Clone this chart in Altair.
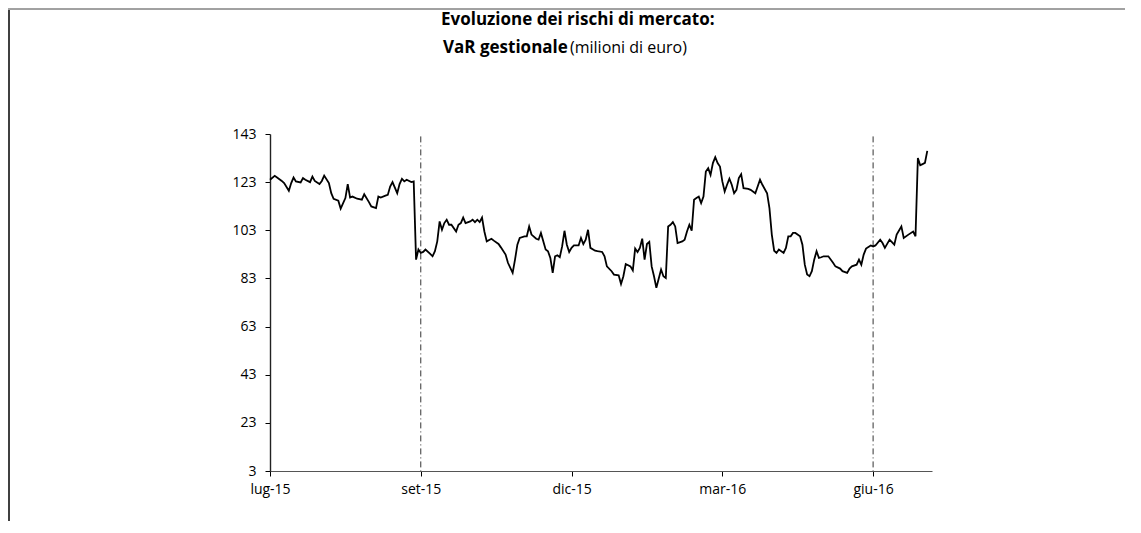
import altair as alt
import pandas as pd

# business-day index (x) and VaR value (milioni di euro)
idx = [0, 2, 3, 5, 6, 8, 9, 10, 11, 13, 14, 15, 17, 18, 19, 21, 22, 23, 25, 26, 27, 29, 30, 32, 33, 34, 35, 37, 39, 40,
       42, 43, 45, 46, 47, 49, 50, 51, 52, 54, 55, 56, 57, 58, 60, 61, 62, 63, 64, 65, 66, 68, 69, 70, 71, 72, 73, 74, 75, 76,
       77, 79, 80, 81, 82, 83, 85, 86, 87, 88, 89, 90, 91, 92, 94, 95, 97, 98, 100, 101, 103, 104, 105, 106, 108, 109, 110, 111, 113, 114,
       115, 116, 117, 118, 119, 120, 121, 122, 123, 124, 125, 126, 127, 128, 129, 131, 132, 133, 134, 135, 136, 138, 139, 141, 142, 143, 145, 146, 148, 149,
       150, 151, 153, 154, 155, 156, 157, 158, 159, 160, 161, 162, 163, 164, 166, 167, 168, 169, 170, 171, 172, 173, 175, 176, 177, 178, 179, 180, 181, 182,
       183, 184, 185, 186, 187, 188, 189, 190, 191, 192, 193, 194, 195, 196, 197, 198, 199, 200, 201, 203, 204, 206, 207, 208, 209, 211, 212, 213, 214, 215,
       216, 218, 219, 220, 221, 222, 223, 225, 226, 227, 228, 229, 230, 231, 232, 233, 234, 235, 237, 239, 240, 242, 243, 245, 246, 247, 249, 250, 251, 252,
       253, 255, 256, 257, 259, 260, 261, 263, 265, 266, 268, 269, 271, 273, 274, 275, 276, 277, 278, 279]
var = [124.0, 125.6, 124.9, 123.5, 122.6, 119.4, 122.6, 124.9, 123.3, 122.9, 124.7, 124.0, 123.0, 125.3, 123.5, 122.2, 123.5, 125.7, 122.6, 118.4,
       116.1, 115.3, 112.0, 116.4, 122.2, 116.6, 117.0, 116.1, 115.7, 118.0, 114.7, 112.9, 112.2, 117.0, 116.6, 117.4, 117.7, 121.2, 123.0, 118.4,
       122.2, 124.4, 123.3, 124.0, 123.0, 123.3, 90.8, 95.0, 93.6, 94.0, 95.0, 93.2, 92.2, 94.3, 98.4, 106.7, 103.2, 106.0, 107.4, 105.3,
       105.3, 102.5, 105.3, 106.0, 108.3, 106.0, 106.7, 107.4, 106.4, 107.4, 106.4, 108.3, 102.5, 98.4, 99.5, 98.7, 97.3, 95.9, 92.9, 89.5,
       85.3, 90.8, 97.0, 99.8, 100.5, 100.5, 104.6, 101.2, 99.5, 99.1, 101.9, 98.4, 95.0, 94.3, 91.5, 85.3, 92.2, 92.6, 91.8, 96.3,
       102.8, 97.0, 94.0, 95.7, 96.7, 96.7, 99.8, 97.3, 99.1, 103.2, 95.7, 94.5, 94.3, 94.0, 92.2, 88.0, 86.0, 84.6, 84.3, 80.7,
       83.9, 89.0, 88.0, 86.3, 95.4, 94.0, 95.7, 99.5, 90.8, 97.3, 98.2, 88.0, 83.9, 79.1, 86.7, 83.9, 83.2, 104.6, 105.3, 106.4,
       104.6, 97.7, 98.4, 99.1, 102.5, 105.3, 102.8, 115.7, 116.4, 117.0, 114.3, 117.0, 127.4, 128.8, 126.0, 130.9, 133.4, 130.9, 129.5, 123.3,
       119.1, 121.9, 124.4, 121.9, 118.4, 119.8, 124.7, 126.3, 120.5, 120.2, 119.8, 118.4, 121.2, 124.0, 121.9, 118.4, 112.2, 101.2, 94.5, 93.6,
       95.0, 93.6, 95.7, 100.5, 100.5, 101.9, 101.9, 100.5, 97.0, 88.7, 84.6, 83.9, 86.0, 90.8, 94.3, 91.5, 91.8, 92.2, 92.2, 89.5,
       88.0, 87.1, 86.0, 85.3, 87.1, 88.0, 88.7, 90.8, 88.7, 92.9, 95.4, 96.7, 96.3, 96.7, 99.1, 97.7, 95.7, 99.1, 97.0, 101.2,
       104.6, 99.8, 101.2, 102.5, 100.5, 133.0, 130.0, 130.5, 131.0, 136.0]

tick_pos = [0, 64, 128, 192, 256]
tick_lbl = ["lug-15", "set-15", "dic-15", "mar-16", "giu-16"]
y_ticks = [3, 23, 43, 63, 83, 103, 123, 143]
marker_pos = [64, 256]

title1 = "Evoluzione dei rischi di mercato:"
title2a = "VaR gestionale"
title2b = "(milioni di euro)"

FONT = "Open Sans"

df = pd.DataFrame({"i": idx, "v": var})
label_expr = f"{tick_lbl}[indexof({tick_pos}, datum.value)]"

x_enc = alt.X("i:Q",
              scale=alt.Scale(domain=[0, 281], nice=False, zero=False),
              axis=alt.Axis(values=tick_pos, labelExpr=label_expr, title=None, grid=False,
                            tickSize=5, labelPadding=6, labelFontSize=14, labelFont=FONT,
                            labelColor="#000", domainColor="#555", tickColor="#000",
                            labelFlush=False, labelOverlap=False))
y_enc = alt.Y("v:Q",
              scale=alt.Scale(domain=[3, 143], nice=False, zero=False),
              axis=alt.Axis(values=y_ticks, title=None, grid=False, tickSize=5, labelPadding=9,
                            labelFontSize=14, labelFont=FONT, labelColor="#000",
                            domainColor="#222", domainWidth=1.4, tickColor="#000"))

line = alt.Chart(df).mark_line(color="black", strokeWidth=1.8).encode(x=x_enc, y=y_enc)

markers = alt.Chart(pd.DataFrame({"m": marker_pos})).mark_rule(
    color="#333", strokeWidth=1, strokeDash=[6, 3, 1, 3]
).encode(x="m:Q", y=alt.datum(142), y2=alt.datum(3))

t1 = alt.Chart(pd.DataFrame({"t": [title1]})).mark_text(
    align="left", baseline="alphabetic", fontSize=17, fontWeight="bold", font=FONT, color="#000"
).encode(text="t:N", x=alt.value(171), y=alt.value(-109))
t2a = alt.Chart(pd.DataFrame({"t": [title2a]})).mark_text(
    align="left", baseline="alphabetic", fontSize=17, fontWeight="bold", font=FONT, color="#000"
).encode(text="t:N", x=alt.value(173), y=alt.value(-81))
t2b = alt.Chart(pd.DataFrame({"t": [title2b]})).mark_text(
    align="left", baseline="alphabetic", fontSize=16, fontWeight="normal", font=FONT, color="#000"
).encode(text="t:N", x=alt.value(300), y=alt.value(-81))

frame_top = alt.Chart(pd.DataFrame({"k": [0]})).mark_rule(color="#444", strokeWidth=1).encode(
    x=alt.value(-262), x2=alt.value(855), y=alt.value(-125))
frame_left = alt.Chart(pd.DataFrame({"k": [0]})).mark_rule(color="#000", strokeWidth=1.5).encode(
    x=alt.value(-261), y=alt.value(-124), y2=alt.value(390))

chart = alt.layer(frame_top, frame_left, markers, line, t1, t2a, t2b).properties(
    width=662, height=337,
    autosize=alt.AutoSizeParams(type="none"),
    padding={"left": 262, "top": 126, "right": 195, "bottom": 50},
    background="white",
).configure_view(stroke=None)

chart.save("out.html", embed_options={"renderer": "svg", "actions": False})
